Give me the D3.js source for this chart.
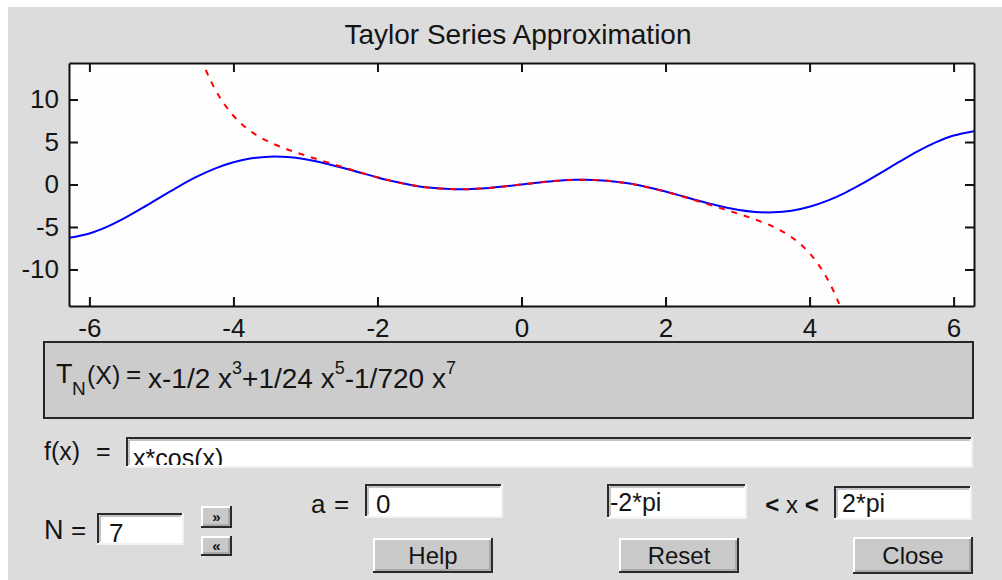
<!DOCTYPE html>
<html><head><meta charset="utf-8">
<script src="https://cdn.jsdelivr.net/npm/d3@7"></script>
<style>
html,body{margin:0;padding:0;background:#fff;overflow:hidden}
svg{display:block}
text{font-family:"Liberation Sans",Arial,sans-serif;fill:#141414}
</style>
</head><body>
<svg id="c" width="1002" height="580"></svg>
<script>
// ---- data ----
const xValues = [-6.2832,-6,-5.75,-5.5,-5.25,-5,-4.75,-4.5,-4.25,-4,-3.75,-3.5,-3.25,-3,-2.75,-2.5,-2.25,-2,-1.75,-1.5,-1.25,-1,-0.75,-0.5,-0.25,0,0.25,0.5,0.75,1,1.25,1.5,1.75,2,2.25,2.5,2.75,3,3.25,3.5,3.75,4,4.25,4.5,4.75,5,5.25,5.5,5.75,6,6.2832];
const fValues = [-6.2832,-5.7610,-4.9518,-3.8977,-2.6884,-1.4183,-0.1786,0.9486,1.8959,2.6146,3.0771,3.2776,3.2309,2.9700,2.5418,2.0029,1.4134,0.8323,0.3119,-0.1061,-0.3942,-0.5403,-0.5488,-0.4388,-0.2422,0,0.2422,0.4388,0.5488,0.5403,0.3942,0.1061,-0.3119,-0.8323,-1.4134,-2.0029,-2.5418,-2.9700,-3.2309,-3.2776,-3.0771,-2.6146,-1.8959,-0.9486,0.1786,1.4183,2.6884,3.8977,4.9518,5.7610,6.2832];
const taylorX = [-5,-4.75,-4.5,-4.25,-4,-3.75,-3.5,-3.25,-3,-2.75,-2.5,-2.25,-2,-1.75,-1.5,-1.25,-1,-0.75,-0.5,-0.25,0,0.25,0.5,0.75,1,1.25,1.5,1.75,2,2.25,2.5,2.75,3,3.25,3.5,3.75,4,4.25,4.5,4.75,5];
const taylorValues = [35.80,23.86,16.074,11.143,8.089,6.202,4.990,4.125,3.4125,2.747,2.0912,1.4481,0.8444,0.3156,-0.1052,-0.3940,-0.5403,-0.5488,-0.4388,-0.2422,0,0.2422,0.4388,0.5488,0.5403,0.3940,0.1052,-0.3156,-0.8444,-1.4481,-2.0912,-2.747,-3.4125,-4.125,-4.990,-6.202,-8.089,-11.143,-16.074,-23.86,-35.80];
const xTicks = [-6,-4,-2,0,2,4,6];
const yTicks = [-10,-5,0,5,10];
const xLimits = [-6.2832, 6.2832];
const yLimits = [-14.3, 14.3];
const titleText = "Taylor Series Approximation";
const functionText = "x*cos(x)";
const orderText = "7";
const centerText = "0";
const xMinText = "-2*pi";
const xMaxText = "2*pi";
const buttonLabels = ["Help","Reset","Close"];

// ---- drawing ----
const svg = d3.select("#c");
const FONT = '"Liberation Sans",Arial,sans-serif';

// window background
svg.append("rect").attr("x",8).attr("y",7).attr("width",994).attr("height",573).attr("fill","#dcdcdc");

const L=69, R=974, T=63, B=306;
const x = d3.scaleLinear().domain(xLimits).range([L,R]);
const y = d3.scaleLinear().domain(yLimits).range([B,T]);

svg.append("rect").attr("x",L).attr("y",T).attr("width",R-L).attr("height",B-T).attr("fill","#fefefe");

svg.append("defs").append("clipPath").attr("id","plotclip")
  .append("rect").attr("x",L).attr("y",T).attr("width",R-L).attr("height",B-T);

const line = d3.line().x(d=>x(d[0])).y(d=>y(d[1])).curve(d3.curveCatmullRom);
const plot = svg.append("g").attr("clip-path","url(#plotclip)");

plot.append("path").datum(xValues.map((v,i)=>[v,fValues[i]]))
  .attr("d",line).attr("fill","none").attr("stroke","#0000ff").attr("stroke-width",2);
plot.append("path").datum(taylorX.map((v,i)=>[v,taylorValues[i]]))
  .attr("d",line).attr("fill","none").attr("stroke","#ff0000").attr("stroke-width",2)
  .attr("stroke-dasharray","6,7");

function styleAxis(g){
  g.attr("font-family",FONT).attr("font-size",26);
  g.selectAll("path.domain").attr("stroke","#111").attr("stroke-width",2);
  g.selectAll(".tick line").attr("stroke","#111").attr("stroke-width",2);
  g.selectAll(".tick text").attr("fill","#141414");
}
const fmt = d=>String(d);
svg.append("g").attr("transform",`translate(0,${B})`)
  .call(d3.axisBottom(x).tickValues(xTicks).tickSize(-9).tickSizeOuter(0).tickPadding(13).tickFormat(fmt))
  .call(styleAxis);
svg.append("g").attr("transform",`translate(0,${T})`)
  .call(d3.axisTop(x).tickValues(xTicks).tickSize(-9).tickSizeOuter(0).tickFormat(""))
  .call(styleAxis);
svg.append("g").attr("transform",`translate(${L},0)`)
  .call(d3.axisLeft(y).tickValues(yTicks).tickSize(-9).tickSizeOuter(0).tickPadding(10).tickFormat(fmt))
  .call(styleAxis);
svg.append("g").attr("transform",`translate(${R},0)`)
  .call(d3.axisRight(y).tickValues(yTicks).tickSize(-9).tickSizeOuter(0).tickFormat(""))
  .call(styleAxis);

// title
svg.append("text").attr("x",518).attr("y",44).attr("text-anchor","middle")
  .attr("font-size",28).text(titleText);

// formula box
svg.append("rect").attr("x",44).attr("y",342).attr("width",929).attr("height",76)
  .attr("fill","#cccccc").attr("stroke","#262626").attr("stroke-width",2);
svg.append("text").attr("x",56).attr("y",383).attr("font-size",27).text("T");
svg.append("text").attr("x",72).attr("y",395).attr("font-size",19).text("N");
svg.append("text").attr("x",87).attr("y",384).attr("font-size",25).text("(X)");
svg.append("text").attr("x",126).attr("y",383).attr("font-size",26).text("=");
const ft = svg.append("text").attr("x",148).attr("y",388).attr("font-size",28);
const pieces = [["x-1/2 x",0],["3",1],["+1/24 x",0],["5",1],["-1/720 x",0],["7",1]];
pieces.forEach(([s,sup],i)=>{
  const prevSup = i>0 && pieces[i-1][1];
  const t = ft.append("tspan").text(s);
  if(sup){ t.attr("font-size",18).attr("dy",-14); }
  else if(prevSup){ t.attr("dy",14); }
});

// edit fields
let clipId=0;
function field(fx,fy,w,h,txt,tx,ty,fs){
  const g = svg.append("g");
  g.append("rect").attr("x",fx).attr("y",fy).attr("width",w).attr("height",h).attr("fill","#ffffff");
  g.append("path").attr("d",`M${fx},${fy+h-1}H${fx+w-1}V${fy}`).attr("stroke","#f2f2f2").attr("stroke-width",2).attr("fill","none");
  g.append("path").attr("d",`M${fx+1},${fy+h-2}V${fy+1}H${fx+w-2}`).attr("stroke","#2a2a2a").attr("stroke-width",2).attr("fill","none");
  g.append("path").attr("d",`M${fx+3},${fy+h-3}V${fy+3}H${fx+w-3}`).attr("stroke","#8a8a8a").attr("stroke-width",1).attr("fill","none");
  const id="fc"+(clipId++);
  svg.select("defs").append("clipPath").attr("id",id).append("rect")
    .attr("x",fx+3).attr("y",fy+3).attr("width",w-6).attr("height",h-6);
  g.append("text").attr("clip-path",`url(#${id})`).attr("x",tx).attr("y",ty).attr("font-size",fs).text(txt);
}
function button(bx,by,w,h,label,fs,ty,bold){
  const g = svg.append("g");
  g.append("rect").attr("x",bx).attr("y",by).attr("width",w).attr("height",h).attr("fill","#c9c9c9");
  g.append("path").attr("d",`M${bx+1},${by+h-1}V${by+1}H${bx+w-1}`).attr("stroke","#ffffff").attr("stroke-width",2).attr("fill","none");
  g.append("path").attr("d",`M${bx},${by+h-1}H${bx+w-1}V${by}`).attr("stroke","#2a2a2a").attr("stroke-width",2).attr("fill","none");
  g.append("path").attr("d",`M${bx+2},${by+h-3}H${bx+w-3}V${by+2}`).attr("stroke","#8a8a8a").attr("stroke-width",1).attr("fill","none");
  g.append("text").attr("x",bx+w/2).attr("y",ty).attr("text-anchor","middle").attr("font-size",fs)
    .attr("font-weight",bold?"bold":"normal").text(label);
}

svg.append("text").attr("x",44).attr("y",460).attr("font-size",25).text("f(x)");
svg.append("text").attr("x",96).attr("y",460).attr("font-size",25).text("=");
field(126,437,847,31,functionText,133,467,25);

svg.append("text").attr("x",44).attr("y",539).attr("font-size",27).text("N");
svg.append("text").attr("x",71).attr("y",539).attr("font-size",26).text("=");
field(97,513,87,32,orderText,109,542,26);

button(201,506,31,22,"\u00bb",15,522,true);
button(201,536,31,20,"\u00ab",15,551,true);

svg.append("text").attr("x",311).attr("y",513).attr("font-size",26).text("a");
svg.append("text").attr("x",334).attr("y",513).attr("font-size",26).text("=");
field(365,484,138,34,centerText,376,513,26);

field(607,484,140,35,xMinText,610,511,25);
const lt = svg.append("text").attr("x",792).attr("y",513).attr("text-anchor","middle").attr("font-size",24);
lt.append("tspan").attr("font-weight","bold").text("<");
lt.append("tspan").text(" x ");
lt.append("tspan").attr("font-weight","bold").text("<");
field(834,486,138,34,xMaxText,842,512,25);

button(373,538,120,35,buttonLabels[0],24,564);
button(619,538,120,35,buttonLabels[1],24,564);
button(853,537,120,37,buttonLabels[2],24,564);
</script>
</body></html>
